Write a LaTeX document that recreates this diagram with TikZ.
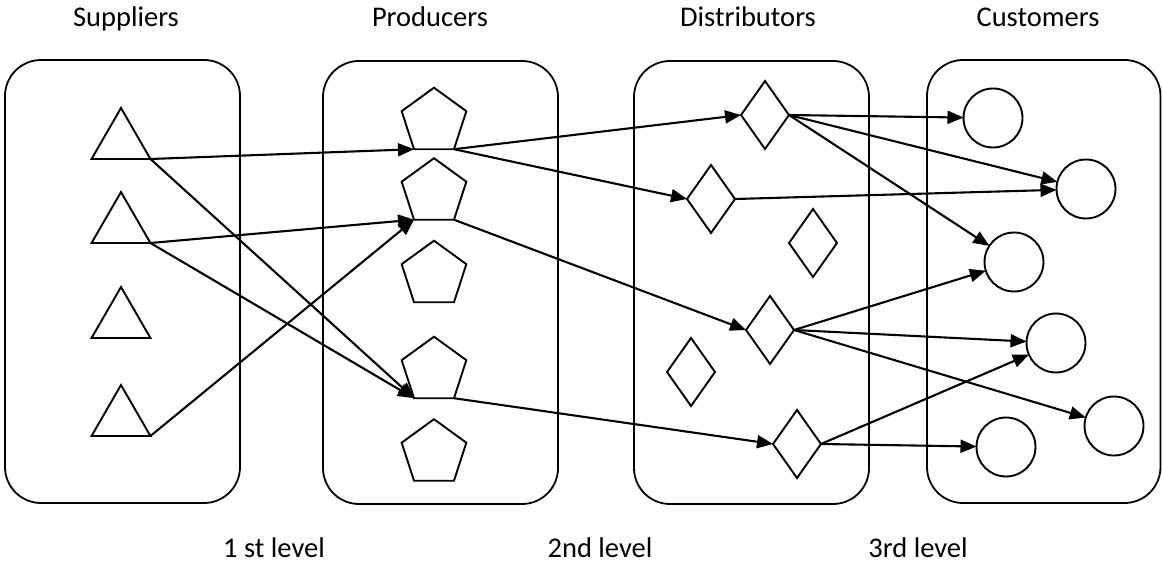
\documentclass[tikz,border=0pt]{standalone}
\usepackage{fontspec}
\setmainfont{Carlito}
\usetikzlibrary{shapes.geometric,arrows.meta}
\tikzset{
  panel/.style={draw, line width=1.8pt, rounded corners=36pt},
  tri/.style={draw, line width=1.9pt, regular polygon, regular polygon sides=3,
              minimum size=68pt, inner sep=0pt, outer sep=0pt},
  pent/.style={draw, line width=1.9pt, regular polygon, regular polygon sides=5,
               minimum size=68pt, inner sep=0pt, outer sep=0pt},
  dia/.style={draw, line width=1.9pt, diamond, minimum width=48pt,
              minimum height=68pt, inner sep=0pt, outer sep=0pt},
  cust/.style={draw, line width=1.9pt, circle, minimum size=59pt,
               inner sep=0pt, outer sep=0pt},
  flow/.style={line width=2.1pt, -{Triangle[length=16pt,width=13pt]}},
  title/.style={anchor=base, font=\fontsize{28.5}{34}\selectfont, inner sep=0pt},
}
\begin{document}
\begin{tikzpicture}[x=1pt, y=-1pt]
\useasboundingbox (0,0) rectangle (1162,564);

% column panels
\draw[panel] (5,60) rectangle (240,503);
\draw[panel] (323,61) rectangle (558,504);
\draw[panel] (634,61) rectangle (869,504);
\draw[panel] (927,60) rectangle (1160.5,503);

% column titles
\node[title] (tS) at (126,27) {Suppliers};
\node[title] (tP) at (430,27) {Producers};
\node[title] (tD) at (748,27) {Distributors};
\node[title] (tC) at (1038,27) {Customers};

% level labels
\node[title] (l1) at (274,557) {1 st level};
\node[title] (l2) at (600,557) {2nd level};
\node[title] (l3) at (918,557) {3rd level};

% suppliers
\node[tri] (T1) at (121,142) {};
\node[tri] (T2) at (121,226) {};
\node[tri] (T3) at (121,321) {};
\node[tri] (T4) at (121,419) {};

% producers
\node[pent] (P1) at (434,121.7) {};
\node[pent] (P2) at (434,192.2) {};
\node[pent] (P3) at (434,274.7) {};
\node[pent] (P4) at (434,370.7) {};
\node[pent] (P5) at (434,453.2) {};

% distributors
\node[dia] (D1) at (765,115) {};
\node[dia] (D2) at (711,199) {};
\node[dia] (D3) at (813,243) {};
\node[dia] (D4) at (770,330) {};
\node[dia] (D5) at (691,372) {};
\node[dia] (D6) at (797,444) {};

% customers
\node[cust] (C1) at (993,118) {};
\node[cust] (C2) at (1086,189) {};
\node[cust] (C3) at (1014,262) {};
\node[cust] (C4) at (1056,343) {};
\node[cust] (C5) at (1114,426) {};
\node[cust] (C6) at (1006,447) {};

% 1st level flows
\draw[flow] (T1.corner 3) -- (P1.corner 3);
\draw[flow] (T1.corner 3) -- (P4.corner 3);
\draw[flow] (T2.corner 3) -- (P2.corner 3);
\draw[flow] (T2.corner 3) -- (P4.corner 3);
\draw[flow] (T4.corner 3) -- (P2.corner 3);

% 2nd level flows
\draw[flow] (P1.corner 4) -- (D1.west);
\draw[flow] (P1.corner 4) -- (D2.west);
\draw[flow] (P2.corner 4) -- (D4.west);
\draw[flow] (P4.corner 4) -- (D6.west);

% 3rd level flows
\draw[flow] (D1.east) -- (C1);
\draw[flow] (D1.east) -- (C2);
\draw[flow] (D1.east) -- (C3);
\draw[flow] (D2.east) -- (C2);
\draw[flow] (D4.east) -- (C3);
\draw[flow] (D4.east) -- (C4);
\draw[flow] (D4.east) -- (C5);
\draw[flow] (D6.east) -- (C4);
\draw[flow] (D6.east) -- (C6);
\end{tikzpicture}
\end{document}
